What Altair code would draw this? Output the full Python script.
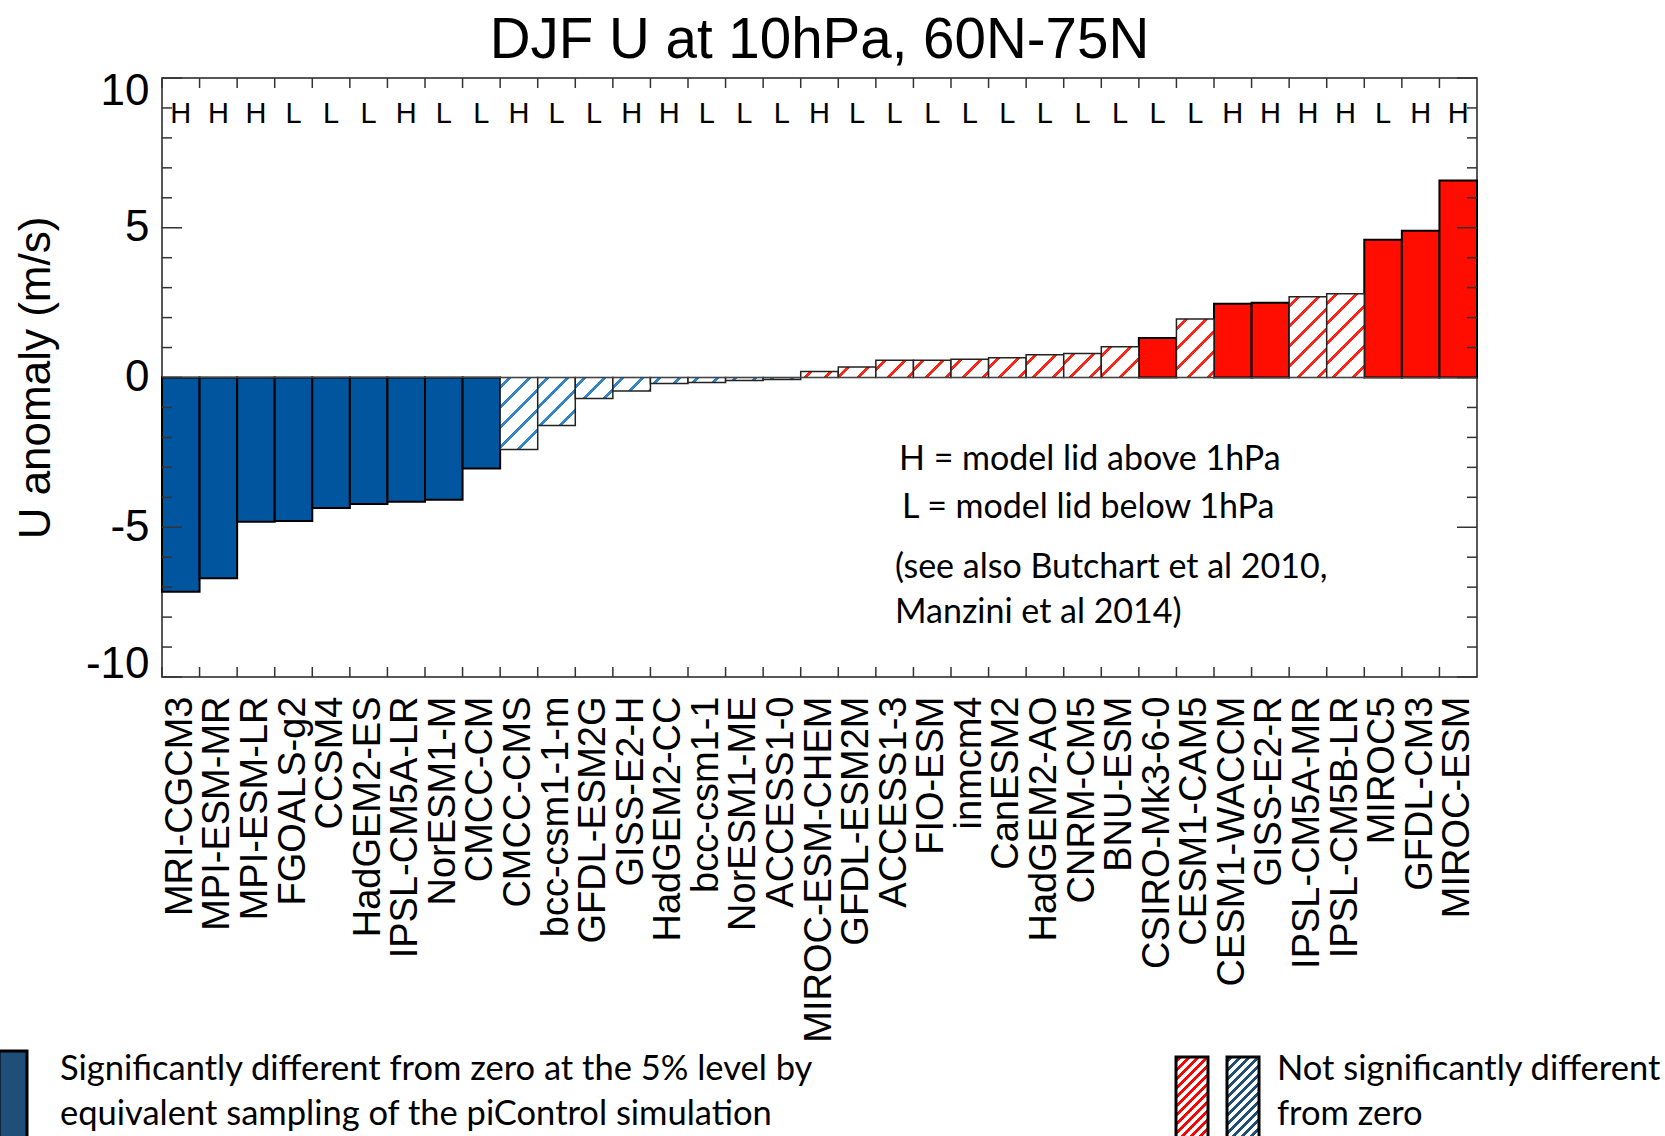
import altair as alt
import pandas as pd

# ---------------- data ----------------
models = ["MRI-CGCM3", "MPI-ESM-MR", "MPI-ESM-LR", "FGOALS-g2", "CCSM4", "HadGEM2-ES",
          "IPSL-CM5A-LR", "NorESM1-M", "CMCC-CM", "CMCC-CMS", "bcc-csm1-1-m", "GFDL-ESM2G",
          "GISS-E2-H", "HadGEM2-CC", "bcc-csm1-1", "NorESM1-ME", "ACCESS1-0", "MIROC-ESM-CHEM",
          "GFDL-ESM2M", "ACCESS1-3", "FIO-ESM", "inmcm4", "CanESM2", "HadGEM2-AO", "CNRM-CM5",
          "BNU-ESM", "CSIRO-Mk3-6-0", "CESM1-CAM5", "CESM1-WACCM", "GISS-E2-R", "IPSL-CM5A-MR",
          "IPSL-CM5B-LR", "MIROC5", "GFDL-CM3", "MIROC-ESM"]
values = [-7.15, -6.7, -4.82, -4.79, -4.36, -4.22, -4.15, -4.08, -3.04, -2.4, -1.6, -0.7,
          -0.45, -0.2, -0.17, -0.1, -0.07, 0.2, 0.35, 0.58, 0.58, 0.61, 0.66, 0.76, 0.8,
          1.03, 1.32, 1.95, 2.46, 2.5, 2.7, 2.8, 4.6, 4.9, 6.58]
significant = [True] * 9 + [False] * 17 + [True, False, True, True, False, False, True, True, True]
lid = ["H", "H", "H", "L", "L", "L", "H", "L", "L", "H", "L", "L", "H", "H", "L", "L", "L", "H",
       "L", "L", "L", "L", "L", "L", "L", "L", "L", "L", "H", "H", "H", "H", "L", "H", "H"]
y_major = [-10, -5, 0, 5, 10]
y_minor = [-9, -8, -7, -6, -4, -3, -2, -1, 1, 2, 3, 4, 6, 7, 8, 9]

title_text = "DJF U at 10hPa, 60N-75N"
y_title = "U anomaly (m/s)"
note_lines = ["H = model lid above 1hPa", "L = model lid below 1hPa",
              "(see also Butchart et al 2010,", "Manzini et al 2014)"]
legend_sig = ["Significantly different from zero at the 5% level by",
              "equivalent sampling of the piControl simulation"]
legend_nonsig = ["Not significantly different", "from zero"]

# ---------------- styles ----------------
W, H = 1315, 599
BLUE = "#00569E"
RED = "#FF0D00"
HATCH_BLUE = "#3385C8"
HATCH_RED = "#FF2418"
LEG_BLUE = "#1F4E79"
AX_FONT = "Liberation Sans"
TXT_FONT = "Lato"

df = pd.DataFrame({"model": models, "value": values, "sig": significant, "lid": lid})
df["color"] = [RED if v > 0 else BLUE for v in values]
one = pd.DataFrame({"a": [0]})

xscale = alt.Scale(paddingInner=0, paddingOuter=0)
yscale = alt.Scale(domain=[-10, 10], nice=False)
xaxis = alt.Axis(title=None, ticks=False, domain=False, labelAngle=270, labelFont=AX_FONT,
                 labelFontSize=38, labelColor="black", labelPadding=19, labelLimit=0)
yaxis = alt.Axis(title=y_title, values=y_major, ticks=False, domain=False, grid=False,
                 labelExpr="'' + datum.value", labelFlush=True, labelFlushOffset=9,
                 labelFont=AX_FONT, labelFontSize=44, labelColor="black", labelPadding=13,
                 titleFont=AX_FONT, titleFontSize=44, titleFontWeight="normal",
                 titleColor="black", titlePadding=27)

X = alt.X("model:N", sort=models, scale=xscale, axis=xaxis)
Xstart = alt.X("model:N", sort=models, scale=xscale, axis=xaxis, bandPosition=0)


def hatch(w, h, color, period, thick, bg="white"):
    L = w + h
    k = L / (w * w + h * h)
    stops = [alt.GradientStop(offset=0, color=bg)]
    c = period * 0.5
    while c - thick / 2 < L:
        a = max(0.0, (c - thick / 2) / L)
        b = min(1.0, (c + thick / 2) / L)
        stops += [alt.GradientStop(offset=round(a, 5), color=bg),
                  alt.GradientStop(offset=round(a, 5), color=color),
                  alt.GradientStop(offset=round(b, 5), color=color),
                  alt.GradientStop(offset=round(b, 5), color=bg)]
        c += period
    stops.append(alt.GradientStop(offset=1, color=bg))
    return alt.Gradient(gradient="linear", stops=stops, x1=0, y1=0,
                        x2=round(k * w, 5), y2=round(k * h, 5))


layers = []

# solid bars
layers.append(
    alt.Chart(df).transform_filter(alt.datum.sig == True)
    .mark_bar(stroke="black", strokeWidth=2)
    .encode(x=X, y=alt.Y("value:Q", scale=yscale, axis=yaxis),
            fill=alt.Fill("color:N", scale=None))
)

# hatched (non-significant) bars
bw = W / len(models)
for m, v, s in zip(models, values, significant):
    if s:
        continue
    hpx = max(abs(v) * H / 20.0, 1.0)
    grad = hatch(bw, hpx, HATCH_RED if v > 0 else HATCH_BLUE, 20, 4)
    layers.append(
        alt.Chart(df).transform_filter(alt.datum.model == m)
        .mark_bar(fill=grad, stroke="#222222", strokeWidth=1.5)
        .encode(x=X, y=alt.Y("value:Q", scale=yscale, axis=yaxis))
    )

# zero line
layers.append(alt.Chart(one).mark_rule(color="#444444", strokeWidth=1.2)
              .encode(y=alt.datum(0, scale=yscale)))

# inward ticks on all four sides
ticks_x = alt.Chart(df)
layers.append(ticks_x.mark_rule(color="#333333", strokeWidth=1.5)
              .encode(x=Xstart, y=alt.value(0), y2=alt.value(10)))
layers.append(ticks_x.mark_rule(color="#333333", strokeWidth=1.5)
              .encode(x=Xstart, y=alt.value(H - 10), y2=alt.value(H)))
maj = alt.Chart(pd.DataFrame({"t": y_major}))
mnr = alt.Chart(pd.DataFrame({"t": y_minor}))
for base, ln in ((maj, 20), (mnr, 10)):
    layers.append(base.mark_rule(color="#333333", strokeWidth=1.5)
                  .encode(y=alt.Y("t:Q", scale=yscale, axis=yaxis),
                          x=alt.value(0), x2=alt.value(ln)))
    layers.append(base.mark_rule(color="#333333", strokeWidth=1.5)
                  .encode(y=alt.Y("t:Q", scale=yscale, axis=yaxis),
                          x=alt.value(W - ln), x2=alt.value(W)))

# H / L lid labels
layers.append(alt.Chart(df).mark_text(font=AX_FONT, fontSize=29, baseline="middle", color="black")
              .encode(x=X, y=alt.value(36), text="lid:N"))

# title
layers.append(alt.Chart(one).mark_text(font=AX_FONT, fontSize=56.5, align="center",
                                       baseline="alphabetic", color="black")
              .encode(x=alt.value(W / 2), y=alt.value(-20), text=alt.value(title_text)))

# annotation text
for txt, xx, yy in zip(note_lines, [737, 740, 733, 733], [382, 430, 490, 535]):
    layers.append(alt.Chart(one).mark_text(font=TXT_FONT, fontSize=34, align="left",
                                           baseline="middle", color="black")
                  .encode(x=alt.value(xx), y=alt.value(yy), text=alt.value(txt)))

# legend: solid rectangle
layers.append(alt.Chart(one).mark_rect(fill=LEG_BLUE, stroke="black", strokeWidth=3)
              .encode(x=alt.value(-163), x2=alt.value(-135), y=alt.value(973), y2=alt.value(1075)))
# legend: hatched rectangles
for x0, col in ((1014, "#FF0000"), (1065, LEG_BLUE)):
    layers.append(alt.Chart(one)
                  .mark_rect(fill=hatch(32, 92, col, 9, 3.5), stroke="black", strokeWidth=3)
                  .encode(x=alt.value(x0), x2=alt.value(x0 + 32), y=alt.value(979), y2=alt.value(1071)))
for txt, yy in zip(legend_sig, [992, 1037]):
    layers.append(alt.Chart(one).mark_text(font=TXT_FONT, fontSize=34.5, align="left",
                                           baseline="middle", color="black")
                  .encode(x=alt.value(-102), y=alt.value(yy), text=alt.value(txt)))
for txt, yy in zip(legend_nonsig, [992, 1037]):
    layers.append(alt.Chart(one).mark_text(font=TXT_FONT, fontSize=34.5, align="left",
                                           baseline="middle", color="black")
                  .encode(x=alt.value(1115), y=alt.value(yy), text=alt.value(txt)))

chart = alt.layer(*layers).properties(
    width=W, height=H,
    autosize=alt.AutoSizeParams(type="none"),
    padding={"left": 162, "top": 78, "right": 188, "bottom": 459},
    background="white",
).configure_view(stroke="#222222", strokeWidth=1.5)

chart.save("out.html", embed_options={"renderer": "svg", "actions": False})
